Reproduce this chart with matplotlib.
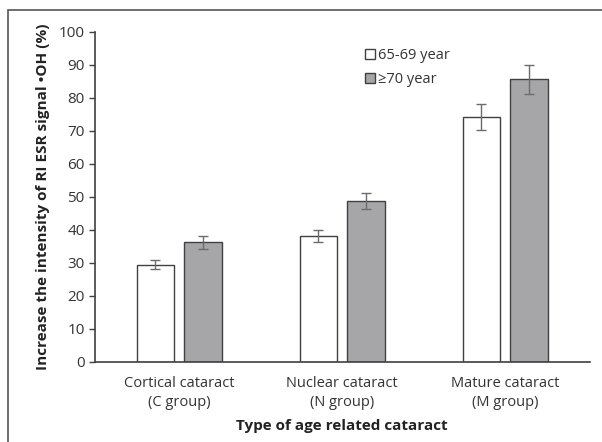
import matplotlib.pyplot as plt
import numpy as np
from matplotlib.patches import Rectangle

categories = ["Cortical cataract\n(C group)", "Nuclear cataract\n(N group)", "Mature cataract\n(M group)"]
series_names = ["65-69 year", "\u226570 year"]
young_vals = [29.5, 38.1, 74.2]
young_err = [1.4, 1.9, 3.8]
old_vals = [36.2, 48.8, 85.6]
old_err = [1.9, 2.4, 4.3]

plt.rcParams['font.family'] = ['Open Sans', 'DejaVu Sans']

fig = plt.figure(figsize=(6.02, 4.42), dpi=100)
ax = fig.add_axes([0.157, 0.181, 0.823, 0.747])

x = np.arange(len(categories))
w = 0.23
off = 0.146
err_kw = dict(ecolor='#6b6b6b', elinewidth=1.0, capsize=3.5, capthick=1.0)
ax.bar(x - off, young_vals, w, yerr=young_err, color='white', edgecolor='#404040',
       linewidth=1.0, error_kw=err_kw, label=series_names[0])
ax.bar(x + off, old_vals, w, yerr=old_err, color='#a6a6a8', edgecolor='#404040',
       linewidth=1.0, error_kw=err_kw, label=series_names[1])

ax.set_xlim(-0.52, 2.52)
ax.set_ylim(0, 100)
ax.set_yticks(np.arange(0, 101, 10))
ax.set_xticks(x)
ax.set_xticklabels(categories, fontsize=10.5, color='#333333', linespacing=1.4)
ax.tick_params(axis='x', length=0, pad=10)
ax.tick_params(axis='y', direction='out', length=4, width=1.0, color='#404040',
               labelsize=11, labelcolor='#333333', pad=3)
for s in ['top', 'right']:
    ax.spines[s].set_visible(False)
for s in ['left', 'bottom']:
    ax.spines[s].set_color('#404040')
    ax.spines[s].set_linewidth(1.2)

ax.set_ylabel("Increase the intensity of RI ESR signal \u2022OH (%)", fontsize=11,
              fontweight='bold', color='#222222', labelpad=6)
ax.set_xlabel("Type of age related cataract", fontsize=11, fontweight='bold',
              color='#222222', labelpad=6)

leg = ax.legend(loc='upper left', bbox_to_anchor=(0.52, 0.99), frameon=False,
                fontsize=10.5, handlelength=0.7, handleheight=0.7,
                handletextpad=0.2, labelspacing=0.6)
for t in leg.get_texts():
    t.set_color('#333333')

fig.patches.append(Rectangle((8 / 602, -0.01), 1.0, 1 - 10 / 442 + 0.01,
                             transform=fig.transFigure, fill=False,
                             edgecolor='#555555', linewidth=1.2))

fig.savefig('out.png', dpi=100)
